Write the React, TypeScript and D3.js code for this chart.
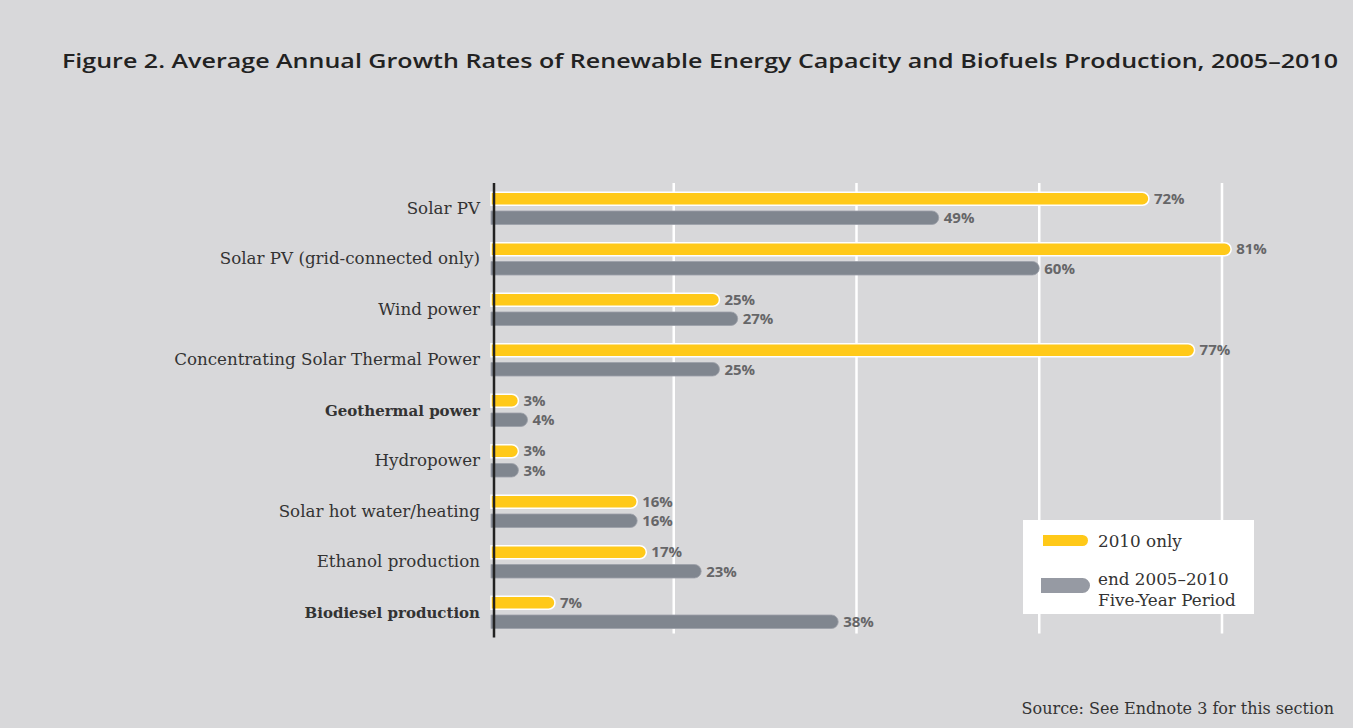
import React from 'react';
import * as d3 from 'd3';

// Chart data
const categories = [
  'Solar PV',
  'Solar PV (grid-connected only)',
  'Wind power',
  'Concentrating Solar Thermal Power',
  'Geothermal power',
  'Hydropower',
  'Solar hot water/heating',
  'Ethanol production',
  'Biodiesel production',
];
const values2010 = [72, 81, 25, 77, 3, 3, 16, 17, 7];
const valuesPeriod = [49, 60, 27, 25, 4, 3, 16, 23, 38];
const gridTicks = [20, 40, 60, 80];
const legendLabels = ['2010 only', 'end 2005–2010', 'Five-Year Period'];

const width = 1353;
const height = 728;
const bg = '#d8d8da';
const yellow = '#ffc919';
const gray = '#80868f';
const valueColor = '#666668';
const labelFont = '"DejaVu Serif", serif';
const sansFont = '"Open Sans", "Noto Sans", sans-serif';

// These two labels use a different, heavier type in the original
const heavyLabels = new Set(['Geothermal power', 'Biodiesel production']);

const plot = { top: 183, bottom: 637.5, left: 491, right: 1222 };

// Bar with a square left end and rounded right end
const roundedBar = (x0: number, x1: number, yc: number, h: number) => {
  const r = Math.min(h / 2, (x1 - x0) / 2);
  const y0 = yc - h / 2;
  const y1 = yc + h / 2;
  return `M${x0},${y0}H${x1 - r}A${r},${r} 0 0 1 ${x1},${yc}A${r},${r} 0 0 1 ${x1 - r},${y1}H${x0}Z`;
};

const App: React.FC = () => {
  const x = d3.scaleLinear().domain([0, 80]).range([plot.left, plot.right]);
  const y = d3.scaleBand<string>().domain(categories).range([plot.top, plot.bottom]);
  const center = (c: string) => (y(c) ?? 0) + y.bandwidth() / 2;

  return (
    <>
      <style>{'body{margin:0;}'}</style>
      <svg width={width} height={height} style={{ display: 'block' }}>
        <rect width={width} height={height} fill={bg} />

        <text
          x={62}
          y={67.5}
          fontFamily={sansFont}
          fontWeight={600}
          fontSize={20.5}
          fill="#222"
          textLength={1276}
          lengthAdjust="spacingAndGlyphs"
        >
          Figure 2. Average Annual Growth Rates of Renewable Energy Capacity and Biofuels Production, 2005–2010
        </text>

        {/* vertical grid */}
        {gridTicks.map((t) => (
          <line
            key={t}
            x1={x(t)}
            x2={x(t)}
            y1={plot.top}
            y2={plot.bottom - 4}
            stroke="#fff"
            strokeWidth={2.5}
          />
        ))}

        {/* bars */}
        {categories.map((c, i) => {
          const yc = center(c);
          return (
            <g key={c}>
              <path
                d={roundedBar(x(0), x(values2010[i]), yc - 9.5, 13)}
                fill={yellow}
                stroke="#fff"
                strokeWidth={1.5}
              />
              <path
                d={roundedBar(x(0), x(valuesPeriod[i]), yc + 9.5, 13.5)}
                fill={gray}
                stroke="#9ca0a8"
                strokeWidth={0.8}
              />
              <text
                x={x(values2010[i]) + 5}
                y={yc - 4.5}
                fontFamily={sansFont}
                fontWeight={700}
                fontSize={15}
                fill={valueColor}
              >
                {`${values2010[i]}%`}
              </text>
              <text
                x={x(valuesPeriod[i]) + 5}
                y={yc + 15}
                fontFamily={sansFont}
                fontWeight={700}
                fontSize={15}
                fill={valueColor}
              >
                {`${valuesPeriod[i]}%`}
              </text>
              <text
                x={480}
                y={yc + 5.5}
                textAnchor="end"
                fontFamily={labelFont}
                fontWeight={heavyLabels.has(c) ? 700 : 400}
                fontSize={heavyLabels.has(c) ? 15 : 16.7}
                fill="#333"
              >
                {c}
              </text>
            </g>
          );
        })}

        {/* category axis line */}
        <line x1={494} x2={494} y1={plot.top} y2={plot.bottom} stroke="#222" strokeWidth={2.5} />

        {/* legend */}
        <g>
          <rect x={1023} y={520} width={231} height={94} fill="#fff" />
          <path d={roundedBar(1043, 1088, 540.5, 11)} fill={yellow} />
          <path d={roundedBar(1041, 1090, 585.5, 15)} fill="#969aa3" />
          <text x={1098} y={547} fontFamily={labelFont} fontSize={16.8} fill="#333">
            {legendLabels[0]}
          </text>
          <text x={1098} y={585} fontFamily={labelFont} fontSize={16.8} fill="#333">
            {legendLabels[1]}
          </text>
          <text x={1098} y={606} fontFamily={labelFont} fontSize={16.8} fill="#333">
            {legendLabels[2]}
          </text>
        </g>

        <text
          x={1334}
          y={714}
          textAnchor="end"
          fontFamily={labelFont}
          fontSize={16}
          fill="#333"
        >
          Source: See Endnote 3 for this section
        </text>
      </svg>
    </>
  );
};

export default App;
